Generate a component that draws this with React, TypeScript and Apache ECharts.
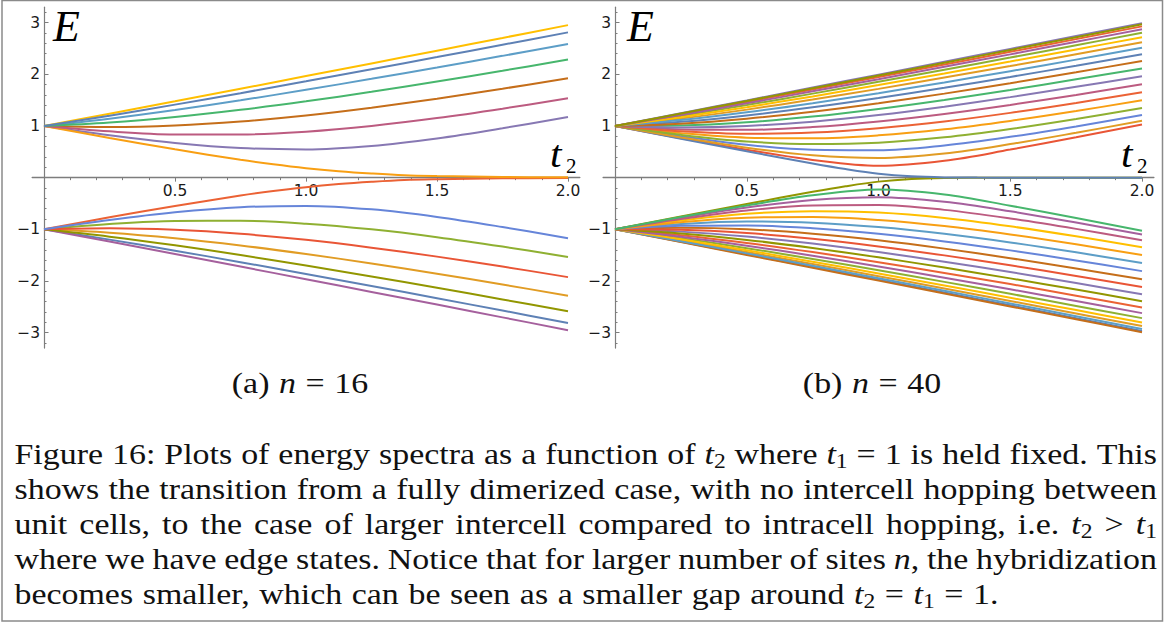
import React, { useEffect, useRef } from "react";
import * as echarts from "echarts";

// ---------- sample points (t2) ----------
const T = [0, 0.25, 0.5, 0.75, 1, 1.25, 1.5, 1.75, 2];
const T_EDGE = [0, 0.25, 0.5, 0.75, 0.875, 1, 1.125, 1.25, 1.375, 1.5, 1.75, 2];

// ---------- (a) n = 16 : band k = 1..7 (bulk), edge band separately ----------
const A_POS = [
  [1, 1.237, 1.478, 1.721, 1.966, 2.212, 2.458, 2.705, 2.953],
  [1, 1.2, 1.414, 1.636, 1.865, 2.098, 2.334, 2.573, 2.813],
  [1, 1.142, 1.31, 1.498, 1.701, 1.913, 2.132, 2.358, 2.587],
  [1, 1.066, 1.173, 1.313, 1.478, 1.662, 1.861, 2.069, 2.286],
  [1, 0.981, 1.011, 1.088, 1.204, 1.355, 1.529, 1.721, 1.926],
  [1, 0.896, 0.837, 0.835, 0.891, 1.001, 1.153, 1.335, 1.536],
  [1, 0.821, 0.672, 0.573, 0.547, 0.614, 0.76, 0.956, 1.174],
];
const A_POS_EDGE = [1, 0.768, 0.548, 0.347, 0.259, 0.184, 0.125, 0.08, 0.045, 0.03, 0.013, 0.006];
const A_NEG = [
  [-1, -1.237, -1.478, -1.721, -1.966, -2.212, -2.458, -2.705, -2.953],
  [-1, -1.2, -1.414, -1.636, -1.865, -2.098, -2.334, -2.573, -2.813],
  [-1, -1.142, -1.31, -1.498, -1.701, -1.913, -2.132, -2.358, -2.587],
  [-1, -1.066, -1.173, -1.313, -1.478, -1.662, -1.861, -2.069, -2.286],
  [-1, -0.981, -1.011, -1.088, -1.204, -1.355, -1.529, -1.721, -1.926],
  [-1, -0.896, -0.837, -0.835, -0.891, -1.001, -1.153, -1.335, -1.536],
  [-1, -0.821, -0.672, -0.573, -0.547, -0.614, -0.76, -0.956, -1.174],
];
const A_NEG_EDGE = [-1, -0.768, -0.548, -0.347, -0.259, -0.184, -0.125, -0.08, -0.045, -0.03, -0.013, -0.006];

// ---------- (b) n = 40 : band k = 1..19 (bulk), edge band separately ----------
const B_POS = [
  [1, 1.248, 1.496, 1.745, 1.994, 2.243, 2.493, 2.742, 2.992],
  [1, 1.241, 1.485, 1.73, 1.977, 2.224, 2.472, 2.72, 2.968],
  [1, 1.23, 1.466, 1.705, 1.947, 2.191, 2.436, 2.682, 2.929],
  [1, 1.214, 1.439, 1.671, 1.907, 2.146, 2.387, 2.63, 2.874],
  [1, 1.194, 1.405, 1.627, 1.855, 2.088, 2.325, 2.564, 2.804],
  [1, 1.171, 1.365, 1.573, 1.792, 2.018, 2.249, 2.483, 2.72],
  [1, 1.144, 1.317, 1.512, 1.719, 1.937, 2.161, 2.39, 2.623],
  [1, 1.114, 1.264, 1.441, 1.636, 1.844, 2.061, 2.285, 2.513],
  [1, 1.081, 1.205, 1.362, 1.543, 1.741, 1.95, 2.167, 2.391],
  [1, 1.045, 1.141, 1.276, 1.441, 1.627, 1.828, 2.04, 2.259],
  [1, 1.009, 1.072, 1.183, 1.331, 1.505, 1.697, 1.903, 2.115],
  [1, 0.971, 1.0, 1.084, 1.212, 1.374, 1.559, 1.759, 1.965],
  [1, 0.933, 0.925, 0.979, 1.088, 1.234, 1.408, 1.602, 1.81],
  [1, 0.897, 0.849, 0.872, 0.957, 1.087, 1.254, 1.446, 1.654],
  [1, 0.862, 0.774, 0.762, 0.819, 0.936, 1.099, 1.29, 1.498],
  [1, 0.829, 0.7, 0.65, 0.677, 0.781, 0.942, 1.136, 1.349],
  [1, 0.802, 0.636, 0.539, 0.53, 0.624, 0.79, 0.992, 1.214],
  [1, 0.779, 0.58, 0.434, 0.381, 0.468, 0.65, 0.869, 1.102],
  [1, 0.762, 0.539, 0.342, 0.229, 0.326, 0.543, 0.782, 1.027],
];
const B_POS_EDGE = [1, 0.754, 0.51, 0.275, 0.167, 0.077, 0.025, 0.005, 0.001, 0, 0, 0];
const B_NEG = [
  [-1, -1.248, -1.496, -1.745, -1.994, -2.243, -2.493, -2.742, -2.992],
  [-1, -1.241, -1.485, -1.73, -1.977, -2.224, -2.472, -2.72, -2.968],
  [-1, -1.23, -1.466, -1.705, -1.947, -2.191, -2.436, -2.682, -2.929],
  [-1, -1.214, -1.439, -1.671, -1.907, -2.146, -2.387, -2.63, -2.874],
  [-1, -1.194, -1.405, -1.627, -1.855, -2.088, -2.325, -2.564, -2.804],
  [-1, -1.171, -1.365, -1.573, -1.792, -2.018, -2.249, -2.483, -2.72],
  [-1, -1.144, -1.317, -1.512, -1.719, -1.937, -2.161, -2.39, -2.623],
  [-1, -1.114, -1.264, -1.441, -1.636, -1.844, -2.061, -2.285, -2.513],
  [-1, -1.081, -1.205, -1.362, -1.543, -1.741, -1.95, -2.167, -2.391],
  [-1, -1.045, -1.141, -1.276, -1.441, -1.627, -1.828, -2.04, -2.259],
  [-1, -1.009, -1.072, -1.183, -1.331, -1.505, -1.697, -1.903, -2.115],
  [-1, -0.971, -1.0, -1.084, -1.212, -1.374, -1.559, -1.759, -1.965],
  [-1, -0.933, -0.925, -0.979, -1.088, -1.234, -1.408, -1.602, -1.81],
  [-1, -0.897, -0.849, -0.872, -0.957, -1.087, -1.254, -1.446, -1.654],
  [-1, -0.862, -0.774, -0.762, -0.819, -0.936, -1.099, -1.29, -1.498],
  [-1, -0.829, -0.7, -0.65, -0.677, -0.781, -0.942, -1.136, -1.349],
  [-1, -0.802, -0.636, -0.539, -0.53, -0.624, -0.79, -0.992, -1.214],
  [-1, -0.779, -0.58, -0.434, -0.381, -0.468, -0.65, -0.869, -1.102],
  [-1, -0.762, -0.539, -0.342, -0.229, -0.326, -0.543, -0.782, -1.027],
];
const B_NEG_EDGE = [-1, -0.754, -0.51, -0.275, -0.167, -0.077, -0.025, -0.005, -0.001, 0, 0, 0];

// ---------- ticks ----------
const X_MAJOR = [0.5, 1, 1.5, 2];
const X_MINOR = [0.1, 0.2, 0.3, 0.4, 0.6, 0.7, 0.8, 0.9, 1.1, 1.2, 1.3, 1.4, 1.6, 1.7, 1.8, 1.9];
const Y_MAJOR = [-3, -2, -1, 1, 2, 3];
const Y_MINOR = [-3.2, -2.8, -2.6, -2.4, -2.2, -1.8, -1.6, -1.4, -1.2, -0.8, -0.6, -0.4, -0.2,
  0.2, 0.4, 0.6, 0.8, 1.2, 1.4, 1.6, 1.8, 2.2, 2.4, 2.6, 2.8, 3.2];

// ---------- texts ----------
const SUBCAPTIONS = ["(a) %n = 16", "(b) %n = 40"];
const CAPTION = [
  "Figure 16: Plots of energy spectra as a function of %t_2 where %t_1 = 1 is held fixed. This",
  "shows the transition from a fully dimerized case, with no intercell hopping between",
  "unit cells, to the case of larger intercell compared to intracell hopping, i.e. %t_2 > %t_1",
  "where we have edge states. Notice that for larger number of sites %n, the hybridization",
  "becomes smaller, which can be seen as a smaller gap around %t_2 = %t_1 = 1.",
];

const PALETTE = [
  "#5E81B5", "#E19C24", "#8FB032", "#EB6235", "#8778B3", "#C56E1A", "#5D9EC7", "#FFBF00",
  "#A5609D", "#929600", "#E95536", "#6685D9", "#F89F13", "#BC5B80", "#47B66D",
];

// ---------- layout constants ----------
const SERIF = '"Liberation Serif", "Times New Roman", serif';
const SANS = '"DejaVu Sans", sans-serif';
const Y0 = 177.65; // pixel of E = 0
const YS = 51.65; // px per unit E
const YMIN = -3.3;
const YMAX = 3.3;
const XMIN = -0.045;
const XMAX = 2.045;
const PLOTS = [
  { x0: 44, xs: 262 },
  { x0: 615, xs: 263.5 },
];

function bandOrder(N: number): [number, number][] {
  const o: [number, number][] = [];
  for (let m = 2; m <= N; m += 2) o.push([-1, m]);
  for (let m = N - 1; m >= 1; m -= 2) o.push([1, m]);
  for (let m = 1; m < N; m += 2) o.push([-1, m]);
  for (let m = N; m >= 2; m -= 2) o.push([1, m]);
  return o;
}

let measureCtx: CanvasRenderingContext2D | null = null;
function measure(text: string, font: string): number {
  if (!measureCtx) measureCtx = document.createElement("canvas").getContext("2d");
  measureCtx!.font = font;
  return measureCtx!.measureText(text).width;
}

type Seg = { text: string; kind: "r" | "i" | "s" };
function parseWord(w: string): Seg[] {
  const segs: Seg[] = [];
  let i = 0;
  while (i < w.length) {
    const c = w[i];
    let kind: Seg["kind"] = "r";
    let ch = c;
    if (c === "%") { kind = "i"; ch = w[i + 1]; i += 2; }
    else if (c === "_") { kind = "s"; ch = w[i + 1]; i += 2; }
    else { i += 1; }
    const last = segs[segs.length - 1];
    if (last && last.kind === kind) last.text += ch;
    else segs.push({ text: ch, kind });
  }
  return segs;
}

const CAP_SIZE = 29.5;
const SUB_SIZE = 20.5;
const SX = 1.15; // horizontal stretch to mimic Computer Modern proportions
function segFont(kind: Seg["kind"]) {
  if (kind === "i") return `italic ${CAP_SIZE}px ${SERIF}`;
  if (kind === "s") return `${SUB_SIZE}px ${SERIF}`;
  return `${CAP_SIZE}px ${SERIF}`;
}
function segWidth(g: Seg) {
  return measure(g.text, segFont(g.kind)) * SX;
}
function wordWidth(segs: Seg[]) {
  return segs.reduce((s, g) => s + segWidth(g), 0);
}
function wordElements(segs: Seg[], x: number, baseline: number): any[] {
  const els: any[] = [];
  let cx = x;
  for (const g of segs) {
    const size = g.kind === "s" ? SUB_SIZE : CAP_SIZE;
    const b = g.kind === "s" ? baseline + 4 : baseline;
    els.push({
      type: "text",
      x: cx,
      y: b - 0.3375 * size,
      scaleX: SX,
      silent: true,
      style: { text: g.text, font: segFont(g.kind), fill: "#111", align: "left", verticalAlign: "middle" },
    });
    cx += segWidth(g);
  }
  return els;
}
function lineElements(line: string, baseline: number, left: number, right: number | null, center?: number) {
  const words = line.split(" ").map(parseWord);
  const widths = words.map(wordWidth);
  const total = widths.reduce((a, b) => a + b, 0);
  let gap = 0.33 * 29;
  let x = left;
  if (right != null && words.length > 1) gap = (right - left - total) / (words.length - 1);
  if (center != null) x = center - (total + gap * (words.length - 1)) / 2;
  const els: any[] = [];
  words.forEach((w, k) => {
    els.push(...wordElements(w, x, baseline));
    x += widths[k] + gap;
  });
  return els;
}

function buildOption() {
  const grids: any[] = [];
  const xAxes: any[] = [];
  const yAxes: any[] = [];
  const series: any[] = [];
  const axisColor = "#7d7d7d";
  const labelStyle = { fontSize: 15.5, fontFamily: SANS, color: "#1a1a1a" };

  PLOTS.forEach((p, pi) => {
    const gLeft = p.x0 + XMIN * p.xs;
    const gTop = Y0 - YMAX * YS;
    const gH = (YMAX - YMIN) * YS;
    grids.push({
      left: gLeft,
      width: (XMAX - XMIN) * p.xs,
      top: gTop,
      height: gH,
      containLabel: false,
      outerBoundsMode: "none",
    });
    const xOff = -(gTop + gH - Y0); // bring bottom x axis up to E = 0
    const yOff = -(p.x0 - gLeft); // bring left y axis right to t2 = 0
    xAxes.push({
      type: "value", gridIndex: pi, min: XMIN, max: XMAX, position: "bottom", offset: xOff,
      splitLine: { show: false },
      axisLine: { show: true, onZero: false, lineStyle: { color: axisColor, width: 1.4 } },
      axisTick: { show: true, inside: false, length: 4, customValues: X_MAJOR, lineStyle: { color: axisColor, width: 1 } },
      axisLabel: { show: true, customValues: X_MAJOR, margin: 5, ...labelStyle, formatter: (v: number) => v.toFixed(1) },
    });
    xAxes.push({
      type: "value", gridIndex: pi, min: XMIN, max: XMAX, position: "bottom", offset: xOff,
      splitLine: { show: false },
      axisLine: { show: false, onZero: false },
      axisTick: { show: true, inside: false, length: 2.5, customValues: X_MINOR, lineStyle: { color: axisColor, width: 1 } },
      axisLabel: { show: false },
    });
    yAxes.push({
      type: "value", gridIndex: pi, min: YMIN, max: YMAX, position: "left", offset: yOff,
      splitLine: { show: false },
      axisLine: { show: true, onZero: false, lineStyle: { color: axisColor, width: 1.2 } },
      axisTick: { show: true, inside: true, length: 4.5, customValues: Y_MAJOR, lineStyle: { color: axisColor, width: 1 } },
      axisLabel: {
        show: true, customValues: Y_MAJOR, margin: 4, ...labelStyle,
        formatter: (v: number) => (v < 0 ? "\u2212" + Math.abs(v) : String(v)),
      },
    });
    yAxes.push({
      type: "value", gridIndex: pi, min: YMIN, max: YMAX, position: "left", offset: yOff,
      splitLine: { show: false },
      axisLine: { show: false, onZero: false },
      axisTick: { show: true, inside: true, length: 2.5, customValues: Y_MINOR, lineStyle: { color: axisColor, width: 1 } },
      axisLabel: { show: false },
    });

    const N = pi === 0 ? 8 : 20;
    const pos = pi === 0 ? A_POS : B_POS;
    const neg = pi === 0 ? A_NEG : B_NEG;
    const posEdge = pi === 0 ? A_POS_EDGE : B_POS_EDGE;
    const negEdge = pi === 0 ? A_NEG_EDGE : B_NEG_EDGE;
    bandOrder(N).forEach(([sign, m], i) => {
      let data: number[][];
      if (m === N) {
        const v = sign > 0 ? posEdge : negEdge;
        data = T_EDGE.map((t, k) => [t, v[k]]);
      } else {
        const v = sign > 0 ? pos[m - 1] : neg[m - 1];
        data = T.map((t, k) => [t, v[k]]);
      }
      series.push({
        type: "line", xAxisIndex: pi * 2, yAxisIndex: pi * 2, data,
        smooth: 0.35, symbol: "none", silent: true,
        lineStyle: { color: PALETTE[i % 15], width: 2 },
      });
    });
  });

  const graphic: any[] = [];
  // frame
  graphic.push({
    type: "rect", silent: true,
    shape: { x: 2, y: 0.5, width: 1160.5, height: 620.5 },
    style: { fill: "none", stroke: "#8a8a8a", lineWidth: 1.5 },
  });
  // axis titles
  const eX = [53, 627];
  const tX = [550, 1121];
  [0, 1].forEach((pi) => {
    graphic.push({
      type: "text", x: eX[pi], y: 41 - 0.3375 * 44, silent: true,
      style: { text: "E", font: `italic 44px ${SERIF}`, fill: "#000", align: "left", verticalAlign: "middle" },
    });
    graphic.push({
      type: "text", x: tX[pi], y: 167 - 0.3375 * 37, scaleX: 1.12, silent: true,
      style: { text: "t", font: `italic 37px ${SERIF}`, fill: "#000", align: "left", verticalAlign: "middle" },
    });
    graphic.push({
      type: "text", x: tX[pi] + 16, y: 173 - 0.3375 * 21, silent: true,
      style: { text: "2", font: `21px ${SERIF}`, fill: "#000", align: "left", verticalAlign: "middle" },
    });
  });
  // sub-captions
  graphic.push(...lineElements(SUBCAPTIONS[0], 393, 0, null, 300));
  graphic.push(...lineElements(SUBCAPTIONS[1], 393, 0, null, 872));
  // caption
  CAPTION.forEach((line, k) => {
    const justify = k < CAPTION.length - 1;
    graphic.push(...lineElements(line, 464 + 35 * k, 14.5, justify ? 1157 : null));
  });

  return {
    animation: false,
    backgroundColor: "#ffffff",
    grid: grids,
    xAxis: xAxes,
    yAxis: yAxes,
    series,
    graphic,
  };
}

export default function App() {
  const ref = useRef<HTMLDivElement>(null);
  useEffect(() => {
    const el = ref.current;
    if (!el) return;
    const chart = echarts.init(el, null, { renderer: "svg" });
    chart.setOption(buildOption());
    return () => chart.dispose();
  }, []);
  return (
    <div
      ref={ref}
      style={{ position: "absolute", left: 0, top: 0, width: 1165, height: 622, background: "#fff" }}
    />
  );
}
